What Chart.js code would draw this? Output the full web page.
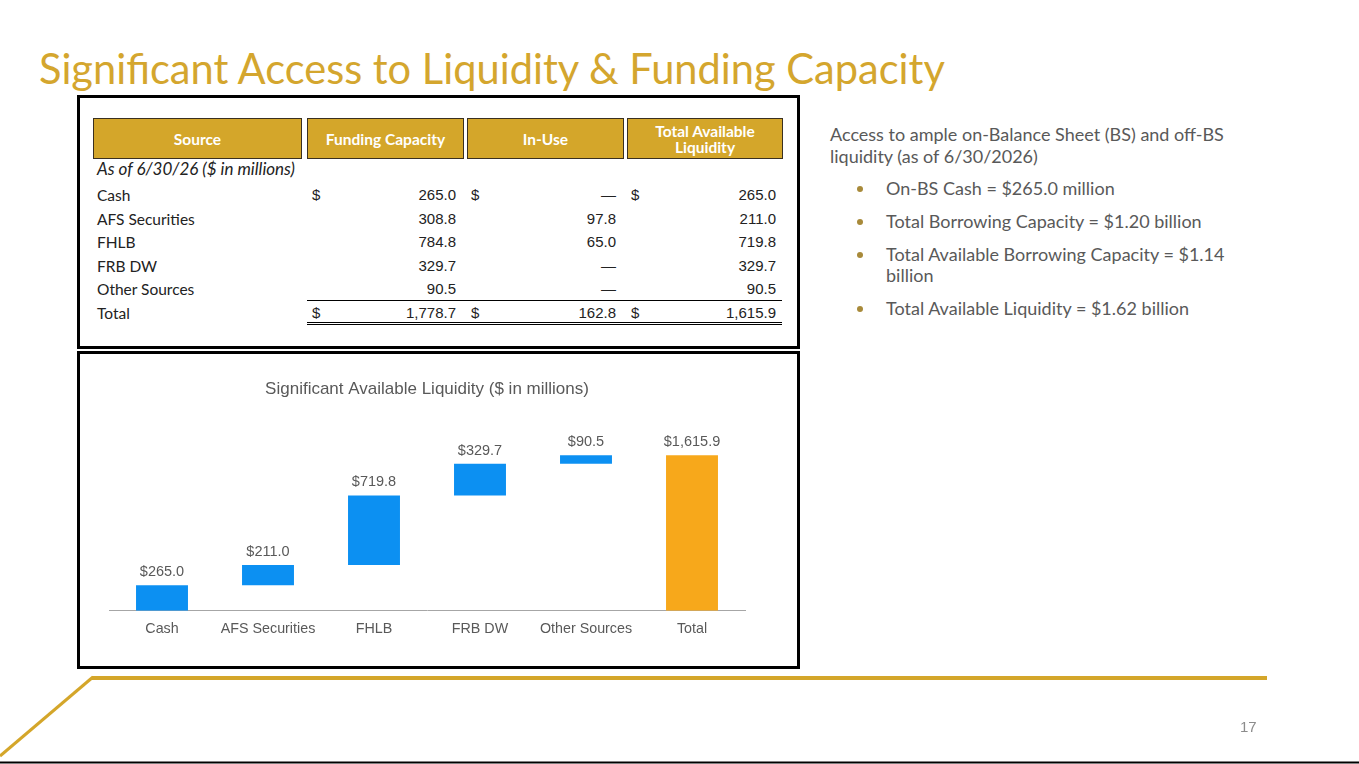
<!DOCTYPE html>
<html>
<head>
<meta charset="utf-8">
<script src="https://cdn.jsdelivr.net/npm/chart.js@4.4.1/dist/chart.umd.min.js"></script>
<style>
  html, body { margin: 0; padding: 0; background: #fff; }
  body { width: 1359px; height: 764px; position: relative; overflow: hidden; font-family: Lato, "Noto Sans", sans-serif; }
  .abs { position: absolute; }
  #title { left: 39px; top: 43px; font-size: 41.6px; color: #D4A62E; white-space: nowrap; }
  .box { position: absolute; border: 3px solid #000; box-sizing: border-box; }
  .hdr { position: absolute; top: 118px; height: 41px; background: #D4A62A; border: 1px solid #3a3020; box-sizing: border-box;
         color: #fff; font-weight: bold; font-size: 15.5px; display: flex; align-items: center; justify-content: center; text-align: center; line-height: 16px; }
  .lbl { position: absolute; left: 97px; font-size: 15.5px; color: #222; line-height: 18px; }
  .num { position: absolute; font-family: "Liberation Sans", Arial, sans-serif; font-size: 15px; color: #222; line-height: 18px; }
  .right { text-align: right; }
  .rule { position: absolute; background: #000; height: 1px; }
  #side { left: 830px; top: 123px; width: 420px; color: #595959; font-size: 18px; line-height: 22px; }
  .bul { position: absolute; left: 886px; width: 352px; color: #595959; font-size: 18px; line-height: 21px; }
  .dot { position: absolute; left: 857px; width: 6px; height: 6px; border-radius: 50%; background: #A88A3A; }
  #chartWrap { position: absolute; left: 80px; top: 354px; width: 716px; height: 311px; }
  #page { left: 1240px; top: 718px; color: #8c8c8c; font-family: "Liberation Sans", Arial, sans-serif; font-size: 15px; }
</style>
</head>
<body>
<div id="title" class="abs">Significant Access to Liquidity &amp; Funding Capacity</div>

<div class="box" style="left:77px; top:95px; width:723px; height:254px;"></div>
<div class="box" style="left:77px; top:351px; width:723px; height:318px;"></div>

<div id="table"></div>

<div id="chartWrap"><canvas id="liqChart"></canvas></div>

<div id="side" class="abs">Access to ample on-Balance Sheet (BS) and off-BS liquidity (as of 6/30/2026)</div>
<div id="bullets"></div>

<svg class="abs" style="left:0; top:0;" width="1359" height="764">
  <line x1="92" y1="678" x2="1267" y2="678" stroke="#D4A62A" stroke-width="4"/>
  <line x1="93" y1="677" x2="0" y2="756" stroke="#D4A62A" stroke-width="3"/>
  <line x1="0" y1="762.5" x2="1359" y2="762.5" stroke="#000" stroke-width="2"/>
</svg>
<div id="page" class="abs">17</div>

<script>
// table data ($ in millions, as of 6/30/26)
var sources = ['Cash', 'AFS Securities', 'FHLB', 'FRB DW', 'Other Sources'];
var fundingCapacity = ['265.0', '308.8', '784.8', '329.7', '90.5'];
var inUse = ['\u2014', '97.8', '65.0', '\u2014', '\u2014'];
var totalAvailable = ['265.0', '211.0', '719.8', '329.7', '90.5'];
var totals = ['1,778.7', '162.8', '1,615.9'];
var headers = ['Source', 'Funding Capacity', 'In-Use', 'Total Available<br>Liquidity'];

// chart data
var categories = ['Cash', 'AFS Securities', 'FHLB', 'FRB DW', 'Other Sources', 'Total'];
var liquidity = [265.0, 211.0, 719.8, 329.7, 90.5, 1615.9];
var barStarts = [0, 265.0, 476.0, 1195.8, 1525.5, 0];
var valueLabels = ['$265.0', '$211.0', '$719.8', '$329.7', '$90.5', '$1,615.9'];

var bulletText = [
    'On-BS Cash = $265.0 million',
    'Total Borrowing Capacity = $1.20 billion',
    'Total Available Borrowing Capacity = $1.14 billion',
    'Total Available Liquidity = $1.62 billion'
];

function addDiv(parent, cls, style, html) {
    var d = document.createElement('div');
    d.className = cls;
    d.setAttribute('style', style);
    d.innerHTML = html;
    parent.appendChild(d);
    return d;
}

// build the table
var tbl = document.getElementById('table');
var hdrCols = [[93, 209], [307, 157], [467, 157], [627, 156]];
headers.forEach(function(h, i) {
    addDiv(tbl, 'hdr', 'left:' + hdrCols[i][0] + 'px; width:' + hdrCols[i][1] + 'px;', h);
});
addDiv(tbl, 'lbl', 'top:160px; font-style:italic; font-size:17px;', 'As of 6/30/26 ($ in millions)');

var rowTops = [186, 210, 233, 257, 280];
var cols = [[312, 456], [471, 616], [631, 776]];
function numCell(col, top, text, dollar) {
    if (dollar) addDiv(tbl, 'num', 'left:' + cols[col][0] + 'px; top:' + top + 'px;', '$');
    addDiv(tbl, 'num right', 'left:' + (cols[col][1] - 100) + 'px; width:100px; top:' + top + 'px;', text);
}
sources.forEach(function(s, i) {
    var t = rowTops[i];
    addDiv(tbl, 'lbl', 'top:' + t + 'px;', s);
    numCell(0, t, fundingCapacity[i], i === 0);
    numCell(1, t, inUse[i], i === 0);
    numCell(2, t, totalAvailable[i], i === 0);
});
addDiv(tbl, 'lbl', 'top:304px;', 'Total');
totals.forEach(function(v, i) { numCell(i, 304, v, true); });
addDiv(tbl, 'rule', 'left:307px; width:475px; top:300px;', '');
addDiv(tbl, 'rule', 'left:307px; width:475px; top:322px;', '');
addDiv(tbl, 'rule', 'left:307px; width:475px; top:324px;', '');

// bullets
var bl = document.getElementById('bullets');
var bulletTops = [178, 211, 244, 298];
bulletText.forEach(function(b, i) {
    addDiv(bl, 'bul', 'top:' + bulletTops[i] + 'px;', b);
    addDiv(bl, 'dot', 'top:' + (bulletTops[i] + 8) + 'px;', '');
});

// waterfall chart
var ranges = liquidity.map(function(v, i) { return [barStarts[i], barStarts[i] + v]; });

var valueLabelPlugin = {
    id: 'valueLabels',
    afterDatasetsDraw: function(chart) {
        var ctx = chart.ctx;
        var meta = chart.getDatasetMeta(0);
        ctx.save();
        ctx.font = '14.5px "Liberation Sans", Arial, sans-serif';
        ctx.fillStyle = '#595959';
        ctx.textAlign = 'center';
        ctx.textBaseline = 'bottom';
        meta.data.forEach(function(bar, i) {
            var top = Math.min(bar.y, bar.base);
            ctx.fillText(valueLabels[i], bar.x, top - 6);
        });
        ctx.restore();
    }
};

var ctx = document.getElementById('liqChart').getContext('2d');
new Chart(ctx, {
    type: 'bar',
    data: {
        labels: categories,
        datasets: [{
            data: ranges,
            backgroundColor: ['#0C90F2', '#0C90F2', '#0C90F2', '#0C90F2', '#0C90F2', '#F7A81B'],
            borderWidth: 0,
            barPercentage: 0.49,
            categoryPercentage: 1.0
        }]
    },
    options: {
        responsive: true,
        maintainAspectRatio: false,
        animation: false,
        layout: { padding: { left: 29, right: 51, top: 0, bottom: 17 } },
        plugins: {
            legend: { display: false },
            tooltip: { enabled: false },
            title: {
                display: true,
                text: 'Significant Available Liquidity ($ in millions)',
                color: '#595959',
                font: { family: '"Liberation Sans", Arial, sans-serif', size: 17, weight: 'normal' },
                padding: { top: 25, bottom: 38 }
            }
        },
        scales: {
            x: {
                grid: { display: false, drawTicks: false },
                border: { display: true, color: '#A6A6A6', width: 1 },
                ticks: {
                    color: '#595959',
                    padding: 10,
                    font: { family: '"Liberation Sans", Arial, sans-serif', size: 14.3 }
                }
            },
            y: {
                display: false,
                min: 0,
                max: 1800
            }
        }
    },
    plugins: [valueLabelPlugin]
});
</script>
</body>
</html>
